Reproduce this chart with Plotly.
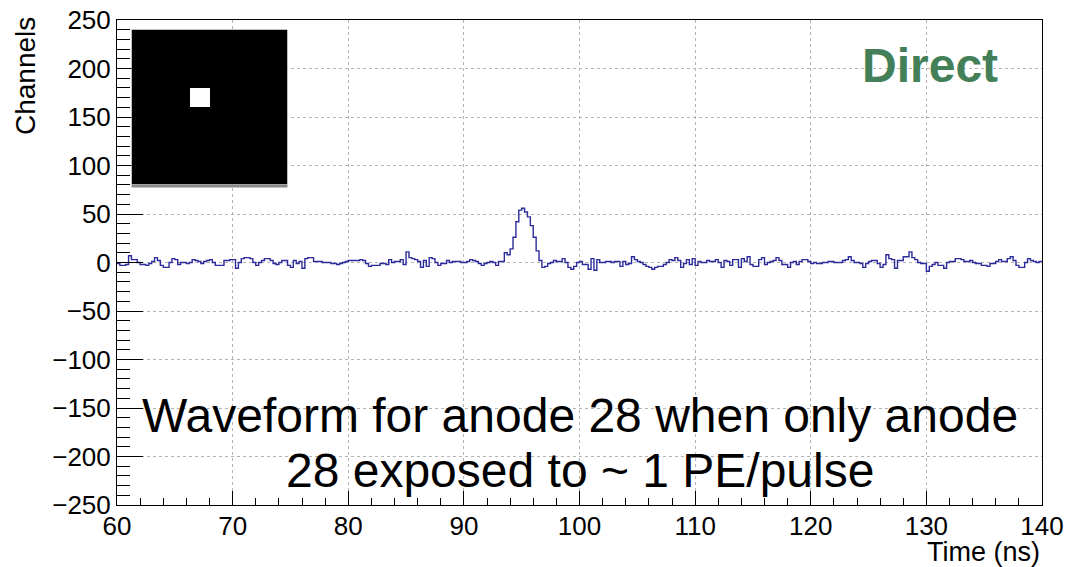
import numpy as np
import plotly.graph_objects as go

# ---------------- data ----------------
TIME_START = 60.0      # ns, left edge of first bin
BIN_WIDTH = 0.25       # ns

# waveform (channels) per 0.25 ns bin, 60 ns -> 140 ns
channels = [
    -1, -3, -3, -2, 7, 3, 3, 0, -2, -2, -3, -1, 1, 5, 2, -3, -5, -5, 0, 4,
    3, -2, 0, 0, -1, 0, 3, 2, 1, -1, 1, 2, 3, 0, -3, -3, -3, 2, 2, 3,
    3, -6, 0, 4, 5, 5, 4, 0, -3, 0, 2, 4, 4, 2, -1, -2, 0, 2, 2, -3,
    -5, 2, -1, 1, -6, 4, 5, 5, 1, 1, 1, 0, 0, 0, -1, -1, -2, -1, 0, 1,
    2, 2, 2, 2, 3, 2, -1, -4, -3, -3, -3, -1, -1, -2, 3, 0, 1, 1, 3, -2,
    11, 5, 4, 3, 1, -5, 2, -4, 5, 4, 0, -3, -1, -1, 2, 0, 1, 1, 1, 0,
    0, 1, 3, 2, 1, -1, -3, -1, 0, 1, 0, -3, 1, 1, 10, 8, 14, 26, 42, 54,
    56, 52, 47, 38, 26, 12, 2, -5, -4, -1, 0, 2, 1, 1, 4, 0, -5, -7, -4, 0,
    1, -2, -2, -7, 4, -8, 3, 0, 0, 1, 1, 0, 1, 1, -4, 1, -2, -1, 6, 3,
    1, 0, -2, -4, -5, -7, -5, -4, -4, -2, 0, 3, 2, 5, 2, -5, -1, 3, -2, 4,
    -3, 1, 0, 0, 2, 1, 1, 3, 0, -5, 2, 1, -3, 3, 3, -5, 4, 1, 6, -2,
    -4, -4, 3, 5, -2, 0, 1, 2, 5, 2, -2, -2, -5, 0, 1, -2, 1, 3, 3, 1,
    -1, 0, -1, -1, 0, 0, 1, 1, 0, 0, 0, 2, 3, 6, 2, 0, 0, -1, -5, -1,
    1, 2, 2, -1, -5, -2, 8, 4, 3, -6, 2, 2, 6, 6, 11, 5, 3, 0, -1, -1,
    -9, -4, -2, 0, -3, -3, -6, 0, 1, 1, 4, 4, 3, 1, 1, 2, 0, -1, -1, -3,
    -3, -4, -1, -1, 1, 3, 1, 1, 4, 6, 2, -3, -5, -5, 0, 4, 2, 1, 0, 1,
]

# 8x8 anode map (only anode 28 illuminated)
anode_map = [
    [0, 0, 0, 0, 0, 0, 0, 0],
    [0, 0, 0, 0, 0, 0, 0, 0],
    [0, 0, 0, 0, 0, 0, 0, 0],
    [0, 0, 0, 1, 0, 0, 0, 0],
    [0, 0, 0, 0, 0, 0, 0, 0],
    [0, 0, 0, 0, 0, 0, 0, 0],
    [0, 0, 0, 0, 0, 0, 0, 0],
    [0, 0, 0, 0, 0, 0, 0, 0],
]

x_ticks = [60, 70, 80, 90, 100, 110, 120, 130, 140]
y_ticks = [-250, -200, -150, -100, -50, 0, 50, 100, 150, 200, 250]
y_tick_text = [("\u2212" + str(-v)) if v < 0 else str(v) for v in y_ticks]

title_lines = ["Waveform for anode 28 when only anode", "28 exposed to ~ 1 PE/pulse"]
label_text = "Direct"

# ---------------- figure ----------------
n = len(channels)
edges = TIME_START + BIN_WIDTH * np.arange(n + 1)
y_step = channels + [channels[-1]]

FONT = "Liberation Sans, Arial, Helvetica, sans-serif"
W, H = 1071, 567
L, R, T, B = 117, 29, 20, 62
PW, PH = W - L - R, H - T - B

def px(xp):
    return (xp - L) / PW

def py(yp):
    return (H - B - yp) / PH

fig = go.Figure()
fig.add_trace(go.Scatter(
    x=edges, y=y_step, mode="lines", line=dict(shape="hv", color="#2b2b9c", width=1.4),
    hoverinfo="skip", showlegend=False,
))

fig.add_trace(go.Heatmap(
    z=anode_map, xaxis="x2", yaxis="y2", colorscale=[[0, "black"], [1, "white"]],
    showscale=False, zmin=0, zmax=1, hoverinfo="skip", xgap=0, ygap=0,
))

axis_common = dict(
    showline=True, linecolor="black", linewidth=1, mirror=True,
    ticks="inside", tickcolor="black", tickwidth=1, automargin=False,
    showgrid=True, gridcolor="#b4b4b4", griddash="dot", gridwidth=1,
    zeroline=False, tickfont=dict(family=FONT, size=26, color="black"),
)

fig.update_layout(
    width=W, height=H,
    margin=dict(l=L, r=R, t=T, b=B, autoexpand=False),
    paper_bgcolor="white", plot_bgcolor="white",
    xaxis=dict(
        range=[60, 140], tickvals=x_ticks, ticklen=14, ticklabelstandoff=-2,
        minor=dict(dtick=2, ticklen=7, ticks="inside", tickcolor="black", showgrid=False),
        **axis_common,
    ),
    yaxis=dict(
        range=[-250, 250], tickvals=y_ticks, ticktext=y_tick_text, ticklen=26,
        minor=dict(dtick=10, ticklen=13, ticks="inside", tickcolor="black", showgrid=False),
        **axis_common,
    ),
    xaxis2=dict(domain=[px(131.5), px(287.5)], anchor="y2", visible=False, range=[-0.5, 7.5]),
    yaxis2=dict(domain=[py(184.5), py(29.5)], anchor="x2", visible=False, range=[7.5, -0.5]),
    font=dict(family=FONT, color="black"),
)

# shadow under the inset
fig.add_shape(type="rect", xref="paper", yref="paper",
              x0=px(131.5), x1=px(287.5), y0=py(187.5), y1=py(184.5),
              fillcolor="#8a8a8a", line=dict(width=0), layer="above")

# axis titles (ROOT style: right / top aligned)
fig.add_annotation(text="Channels", xref="paper", yref="paper", x=px(25), y=py(15),
                   xanchor="center", yanchor="top", textangle=-90, showarrow=False,
                   font=dict(family=FONT, size=28, color="black"))
fig.add_annotation(text="Time (ns)", xref="paper", yref="paper", x=1.0, y=py(552),
                   xanchor="right", yanchor="middle", showarrow=False,
                   font=dict(family=FONT, size=27, color="black"))

# label
fig.add_annotation(text="<b>" + label_text + "</b>", xref="paper", yref="paper",
                   x=px(929.5), y=py(65), xanchor="center", yanchor="middle", showarrow=False,
                   font=dict(family=FONT, size=48, color="#437f58"))

# caption
for line, yc in zip(title_lines, [415, 470]):
    fig.add_annotation(text=line, xref="paper", yref="paper", x=px(580), y=py(yc),
                       xanchor="center", yanchor="middle", showarrow=False,
                       font=dict(family=FONT, size=48, color="black"))

fig.write_html("out.html", post_script="document.body.style.margin='0px';",
               config={"displayModeBar": False})
